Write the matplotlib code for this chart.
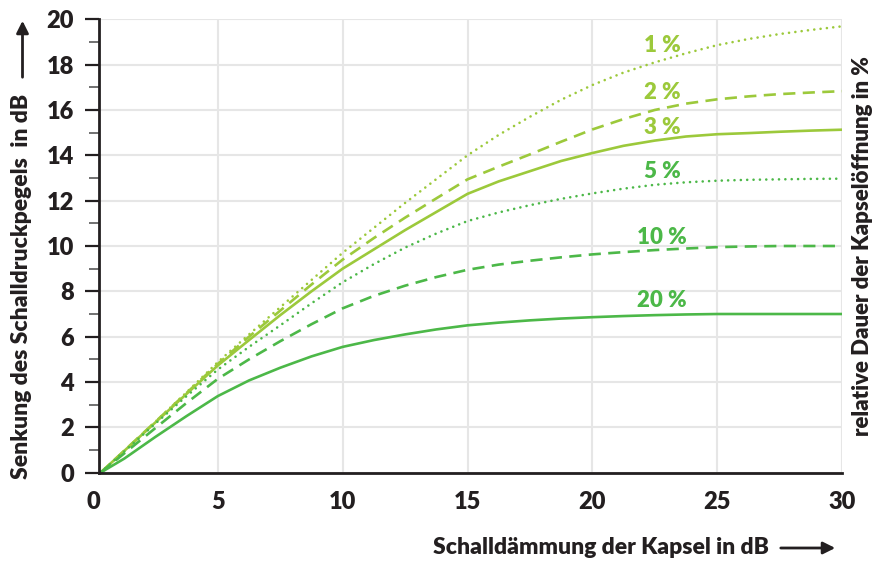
import matplotlib
matplotlib.use("Agg")
import matplotlib.pyplot as plt

plt.rcParams['font.family'] = ['Lato', 'DejaVu Sans']
plt.rcParams['font.weight'] = 'heavy'

# Schalldämmung der Kapsel (dB)
daemmung = [0.3, 1.25, 2.5, 3.75, 5, 6.25, 7.5, 8.75, 10, 11.25, 12.5, 13.75, 15,
            16.25, 17.5, 18.75, 20, 21.25, 22.5, 23.75, 25, 26.25, 27.5, 28.75, 30]

# Senkung des Schalldruckpegels (dB) per relative opening time
senkung_1 = [0, 0.97, 2.25, 3.55, 4.88, 6.1, 7.3, 8.5, 9.7, 10.8, 11.9, 12.95, 14.0,
             14.9, 15.7, 16.45, 17.1, 17.65, 18.1, 18.5, 18.86, 19.13, 19.35, 19.53, 19.69]
senkung_2 = [0, 0.97, 2.25, 3.52, 4.8, 6.0, 7.15, 8.3, 9.4, 10.35, 11.25, 12.1, 12.94,
             13.5, 14.04, 14.6, 15.14, 15.6, 16.0, 16.28, 16.47, 16.6, 16.7, 16.77, 16.83]
senkung_3 = [0, 0.96, 2.22, 3.48, 4.73, 5.85, 6.95, 8.0, 9.0, 9.85, 10.7, 11.5, 12.3,
             12.85, 13.3, 13.75, 14.1, 14.42, 14.65, 14.83, 14.93, 14.98, 15.04, 15.09, 15.13]
senkung_5 = [0, 0.93, 2.17, 3.38, 4.55, 5.55, 6.5, 7.47, 8.4, 9.2, 9.93, 10.55, 11.1,
             11.48, 11.8, 12.08, 12.32, 12.53, 12.7, 12.81, 12.88, 12.92, 12.94, 12.96, 12.97]
senkung_10 = [0, 0.85, 1.97, 3.08, 4.14, 5.0, 5.8, 6.55, 7.25, 7.8, 8.25, 8.63, 8.95,
              9.18, 9.35, 9.5, 9.63, 9.73, 9.82, 9.89, 9.95, 9.98, 10.0, 10.0, 10.0]
senkung_20 = [0, 0.62, 1.58, 2.5, 3.38, 4.07, 4.63, 5.13, 5.55, 5.85, 6.1, 6.32, 6.5,
              6.62, 6.72, 6.8, 6.86, 6.91, 6.95, 6.98, 7.0, 7.0, 7.0, 7.0, 7.0]

labels = ['1 %', '2 %', '3 %', '5 %', '10 %', '20 %']
label_y = [18.85, 16.76, 15.23, 13.29, 10.38, 7.6]

x_ticks = [5, 10, 15, 20, 25, 30]
y_ticks = [0, 2, 4, 6, 8, 10, 12, 14, 16, 18, 20]

LIME = '#9cc93b'
GREEN = '#4cb848'
DARK = '#231f20'
W = 'heavy'

dotted = (0, (0.01, 2.4))
dashed = (0, (4.6, 2.8))

series = [
    (senkung_1, LIME, dotted),
    (senkung_2, LIME, dashed),
    (senkung_3, LIME, '-'),
    (senkung_5, GREEN, dotted),
    (senkung_10, GREEN, dashed),
    (senkung_20, GREEN, '-'),
]

fig = plt.figure(figsize=(8.88, 5.61), dpi=100)
ax = fig.add_axes([99 / 888, 88.3 / 561, 743 / 888, 453.4 / 561])

for (vals, col, ls), lab, ly in zip(series, labels, label_y):
    ax.plot(daemmung, vals, color=col, linestyle=ls, lw=1.9,
            dash_capstyle='round' if ls is dotted else 'butt',
            solid_joinstyle='round', zorder=3)
    ax.text(22.8, ly, lab, color=col, fontsize=16, fontweight=W,
            ha='center', va='center', zorder=4)

ax.set_xlim(0.24, 30)
ax.set_ylim(0, 20)
ax.set_xticks(x_ticks)
ax.set_yticks(y_ticks)
ax.set_yticks([1, 3, 5, 7, 9, 11, 13, 15, 17, 19], minor=True)
ax.tick_params(axis='x', length=0, pad=13, labelsize=17, labelcolor=DARK)
ax.tick_params(axis='y', which='major', length=10, width=1.6, color=DARK,
               pad=8, labelsize=17, labelcolor=DARK)
ax.tick_params(axis='y', which='minor', length=7.5, width=1.3, color='#666666')
for t in ax.get_xticklabels() + ax.get_yticklabels():
    t.set_fontweight(W)
ax.text(0, -1.3, '0', fontsize=17, fontweight=W, color=DARK,
        ha='center', va='center', clip_on=False)

ax.grid(True, which='major', color='#e6e6e6', lw=1.5, zorder=0)
ax.set_axisbelow(True)
for side in ['top', 'right']:
    ax.spines[side].set_visible(False)
for side in ['left', 'bottom']:
    ax.spines[side].set_color(DARK)
    ax.spines[side].set_linewidth(2)
    ax.spines[side].set_zorder(5)

# axis titles with arrows
fig.text(22 / 888, (561 - 479) / 561, 'Senkung des Schalldruckpegels  in dB',
         rotation=90, ha='center', va='bottom', fontsize=16.5,
         fontweight=W, color=DARK)
ax.annotate('', xy=(22.5 / 888, 1 - 18 / 561), xytext=(22.5 / 888, 1 - 80 / 561),
            xycoords='figure fraction',
            arrowprops=dict(arrowstyle='-|>', color=DARK, lw=2, mutation_scale=18))

fig.text(433 / 888, (561 - 548) / 561, 'Schalldämmung der Kapsel in dB',
         ha='left', va='center', fontsize=16.5, fontweight=W, color=DARK)
ax.annotate('', xy=(838 / 888, (561 - 548) / 561), xytext=(778 / 888, (561 - 548) / 561),
            xycoords='figure fraction',
            arrowprops=dict(arrowstyle='-|>', color=DARK, lw=2, mutation_scale=18))

fig.text(862 / 888, (561 - 246) / 561, 'relative Dauer der Kapselöffnung in %',
         rotation=90, ha='center', va='center', fontsize=16,
         fontweight=W, color=DARK)

fig.savefig('out.png', dpi=100)
